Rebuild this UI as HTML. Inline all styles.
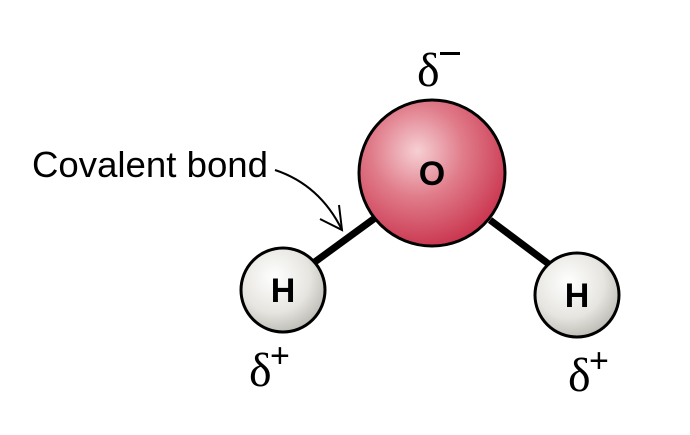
<!DOCTYPE html>
<html><head><style>html,body{margin:0;padding:0;background:#fff}svg{display:block}</style></head>
<body>
<svg width="690" height="435" viewBox="0 0 690 435" xmlns="http://www.w3.org/2000/svg">
<defs>
<radialGradient id="og" cx="0.4" cy="0.35" r="0.7">
<stop offset="0" stop-color="#f6d0d4"/>
<stop offset="0.45" stop-color="#e07c8a"/>
<stop offset="1" stop-color="#c8304a"/>
</radialGradient>
<radialGradient id="hg" cx="0.4" cy="0.35" r="0.7">
<stop offset="0" stop-color="#ffffff"/>
<stop offset="0.6" stop-color="#e6e5e0"/>
<stop offset="1" stop-color="#b8b7b0"/>
</radialGradient>
</defs>
<line x1="312" y1="264" x2="375" y2="218" stroke="#000" stroke-width="7"/>
<line x1="490" y1="220" x2="550" y2="265" stroke="#000" stroke-width="7"/>
<circle cx="432" cy="173" r="73" fill="url(#og)" stroke="#000" stroke-width="3"/>
<circle cx="283" cy="290" r="42" fill="url(#hg)" stroke="#000" stroke-width="3"/>
<circle cx="577" cy="295" r="42" fill="url(#hg)" stroke="#000" stroke-width="3"/>
<g font-family="Liberation Sans, sans-serif" font-weight="bold" font-size="34" text-anchor="middle">
<text x="432" y="185">O</text>
<text x="283" y="302">H</text>
<text x="577" y="307">H</text>
</g>
<text x="32" y="177" font-family="Liberation Sans, sans-serif" font-size="36" textLength="236" lengthAdjust="spacingAndGlyphs">Covalent bond</text>
<path d="M275 170 Q320 185 342 230" fill="none" stroke="#000" stroke-width="2"/>
<path d="M320 219 L342 230 L339 205" fill="none" stroke="#000" stroke-width="2"/>
<g font-family="Liberation Serif, serif" font-size="48">
<text x="417" y="86">δ</text>
<text x="249" y="386">δ</text>
<text x="568" y="391">δ</text>
</g>
<g font-family="Liberation Sans, sans-serif" font-size="34">
<rect x="440" y="52" width="20" height="3" fill="#000"/>
<text x="270" y="367">+</text>
<text x="589" y="372">+</text>
</g>
</svg>
</body></html>
